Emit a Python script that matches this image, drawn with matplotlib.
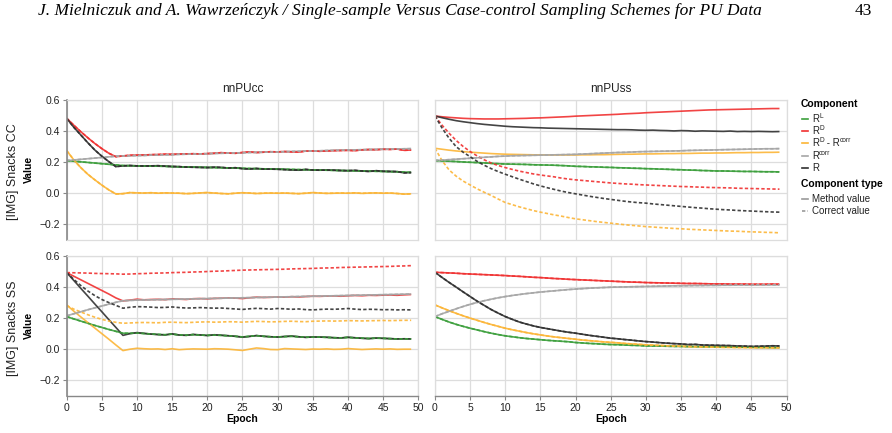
import matplotlib
matplotlib.use("Agg")
import matplotlib.pyplot as plt
from matplotlib.lines import Line2D

plt.rcParams['font.family'] = ['Liberation Sans', 'DejaVu Sans']

epochs = list(range(50))

col_titles = ['nnPUcc', 'nnPUss']
row_titles = ['[IMG] Snacks CC', '[IMG] Snacks SS']
# legend labels as (text, superscript?) pieces
components = [[('R', False), ('L', True)],
              [('R', False), ('D', True)],
              [('R', False), ('D', True), (' - R', False), ('corr', True)],
              [('R', False), ('corr', True)],
              [('R', False)]]
comp_types = ['Method value', 'Correct value']

# ---- nnPUcc / Snacks CC (correct values coincide with method values)
cc_cc_RL = [0.210, 0.206, 0.202, 0.198, 0.194, 0.190, 0.186, 0.182, 0.178, 0.177,
            0.176, 0.175, 0.174, 0.174, 0.173, 0.171, 0.170, 0.169, 0.168, 0.167,
            0.166, 0.165, 0.164, 0.163, 0.162, 0.160, 0.159, 0.158, 0.157, 0.156,
            0.155, 0.154, 0.153, 0.152, 0.151, 0.150, 0.149, 0.148, 0.147, 0.146,
            0.145, 0.144, 0.143, 0.142, 0.141, 0.140, 0.139, 0.138, 0.136, 0.134]
cc_cc_RD = [0.482, 0.438, 0.396, 0.357, 0.320, 0.287, 0.257, 0.235, 0.240, 0.244,
            0.245, 0.246, 0.248, 0.249, 0.251, 0.250, 0.252, 0.253, 0.254, 0.253,
            0.255, 0.257, 0.261, 0.258, 0.257, 0.262, 0.266, 0.262, 0.264, 0.267,
            0.266, 0.268, 0.266, 0.265, 0.271, 0.272, 0.270, 0.272, 0.274, 0.275,
            0.276, 0.274, 0.279, 0.281, 0.280, 0.283, 0.282, 0.284, 0.276, 0.278]
cc_cc_RDmC = [0.274, 0.215, 0.165, 0.122, 0.086, 0.052, 0.021, -0.005, -0.003, 0.004,
              0.002, 0.001, 0.003, 0.000, 0.002, 0.001, 0.000, -0.003, -0.001, 0.002,
              0.004, 0.001, -0.002, -0.004, 0.000, 0.003, 0.001, -0.002, 0.000, 0.001,
              0.000, 0.001, -0.001, -0.003, 0.000, 0.004, 0.001, -0.001, 0.000, 0.001,
              0.000, 0.002, -0.001, 0.001, 0.002, 0.000, 0.001, -0.002, -0.006, -0.004]
cc_cc_Rcorr = [0.210, 0.214, 0.218, 0.222, 0.226, 0.230, 0.234, 0.238, 0.240, 0.241,
               0.242, 0.243, 0.245, 0.246, 0.247, 0.248, 0.250, 0.251, 0.252, 0.253,
               0.254, 0.256, 0.257, 0.258, 0.259, 0.260, 0.262, 0.263, 0.264, 0.265,
               0.266, 0.267, 0.269, 0.270, 0.271, 0.272, 0.273, 0.275, 0.276, 0.277,
               0.278, 0.279, 0.280, 0.281, 0.282, 0.283, 0.284, 0.285, 0.286, 0.287]
cc_cc_R = [0.482, 0.425, 0.375, 0.325, 0.278, 0.238, 0.203, 0.171, 0.176, 0.178,
           0.176, 0.175, 0.176, 0.177, 0.174, 0.172, 0.171, 0.168, 0.167, 0.166,
           0.165, 0.167, 0.166, 0.162, 0.164, 0.158, 0.156, 0.159, 0.155, 0.155,
           0.154, 0.152, 0.150, 0.148, 0.153, 0.149, 0.148, 0.149, 0.148, 0.146,
           0.145, 0.147, 0.143, 0.140, 0.145, 0.141, 0.140, 0.139, 0.131, 0.133]

# ---- nnPUss / Snacks CC
ss_cc_RL = [0.210, 0.208, 0.206, 0.204, 0.201, 0.199, 0.197, 0.195, 0.192, 0.190,
            0.188, 0.187, 0.186, 0.185, 0.183, 0.182, 0.181, 0.180, 0.178, 0.176,
            0.173, 0.172, 0.170, 0.169, 0.167, 0.166, 0.164, 0.163, 0.161, 0.160,
            0.158, 0.157, 0.155, 0.154, 0.152, 0.151, 0.149, 0.148, 0.146, 0.145,
            0.143, 0.143, 0.142, 0.141, 0.140, 0.140, 0.139, 0.138, 0.138, 0.137]
ss_cc_RD = [0.497, 0.492, 0.488, 0.485, 0.482, 0.480, 0.479, 0.478, 0.478, 0.478,
            0.479, 0.480, 0.481, 0.482, 0.484, 0.485, 0.487, 0.489, 0.491, 0.493,
            0.496, 0.498, 0.500, 0.502, 0.504, 0.506, 0.508, 0.511, 0.513, 0.515,
            0.518, 0.520, 0.522, 0.524, 0.526, 0.528, 0.530, 0.532, 0.534, 0.536,
            0.537, 0.538, 0.539, 0.540, 0.541, 0.542, 0.543, 0.544, 0.545, 0.545]
ss_cc_RDmC = [0.289, 0.283, 0.277, 0.272, 0.268, 0.264, 0.261, 0.258, 0.255, 0.253,
              0.251, 0.250, 0.249, 0.248, 0.247, 0.247, 0.246, 0.246, 0.246, 0.246,
              0.246, 0.247, 0.247, 0.248, 0.248, 0.249, 0.250, 0.251, 0.251, 0.252,
              0.253, 0.253, 0.254, 0.255, 0.255, 0.256, 0.256, 0.257, 0.258, 0.258,
              0.259, 0.259, 0.260, 0.261, 0.261, 0.262, 0.262, 0.263, 0.263, 0.264]
ss_cc_Rcorr = [0.210, 0.213, 0.216, 0.219, 0.222, 0.225, 0.228, 0.231, 0.234, 0.237,
               0.239, 0.241, 0.242, 0.243, 0.244, 0.245, 0.246, 0.247, 0.248, 0.249,
               0.250, 0.252, 0.254, 0.256, 0.258, 0.260, 0.262, 0.263, 0.265, 0.267,
               0.268, 0.269, 0.270, 0.271, 0.272, 0.273, 0.275, 0.276, 0.277, 0.278,
               0.279, 0.280, 0.281, 0.282, 0.283, 0.284, 0.285, 0.286, 0.286, 0.287]
ss_cc_R = [0.497, 0.486, 0.476, 0.467, 0.460, 0.454, 0.448, 0.443, 0.439, 0.435,
           0.431, 0.428, 0.426, 0.424, 0.422, 0.421, 0.419, 0.418, 0.417, 0.416,
           0.415, 0.414, 0.413, 0.412, 0.411, 0.410, 0.409, 0.409, 0.408, 0.406,
           0.405, 0.406, 0.404, 0.403, 0.401, 0.403, 0.402, 0.399, 0.401, 0.400,
           0.399, 0.398, 0.400, 0.397, 0.398, 0.397, 0.398, 0.397, 0.396, 0.397]
ss_cc_RD_true = [0.497, 0.438, 0.386, 0.340, 0.301, 0.268, 0.240, 0.215, 0.194, 0.178,
                 0.165, 0.153, 0.142, 0.133, 0.124, 0.117, 0.111, 0.105, 0.097, 0.091,
                 0.086, 0.082, 0.078, 0.074, 0.070, 0.066, 0.063, 0.060, 0.058, 0.055,
                 0.053, 0.051, 0.049, 0.047, 0.045, 0.043, 0.042, 0.040, 0.039, 0.037,
                 0.036, 0.035, 0.034, 0.032, 0.031, 0.030, 0.029, 0.028, 0.027, 0.026]
ss_cc_RDmC_true = [0.289, 0.210, 0.150, 0.110, 0.078, 0.053, 0.028, 0.006, -0.015, -0.038,
                   -0.060, -0.074, -0.088, -0.100, -0.112, -0.122, -0.131, -0.140, -0.148, -0.157,
                   -0.165, -0.171, -0.177, -0.183, -0.188, -0.193, -0.198, -0.203, -0.207, -0.211,
                   -0.215, -0.218, -0.221, -0.224, -0.227, -0.229, -0.232, -0.234, -0.236, -0.238,
                   -0.240, -0.242, -0.244, -0.245, -0.247, -0.249, -0.250, -0.252, -0.253, -0.255]
ss_cc_R_true = [0.497, 0.420, 0.354, 0.300, 0.264, 0.235, 0.205, 0.180, 0.158, 0.139,
                0.122, 0.106, 0.090, 0.075, 0.060, 0.047, 0.035, 0.024, 0.013, 0.004,
                -0.004, -0.012, -0.020, -0.027, -0.034, -0.040, -0.046, -0.052, -0.057, -0.061,
                -0.064, -0.069, -0.073, -0.077, -0.081, -0.085, -0.089, -0.093, -0.096, -0.100,
                -0.103, -0.106, -0.108, -0.111, -0.113, -0.115, -0.117, -0.119, -0.121, -0.122]

# ---- nnPUcc / Snacks SS
cc_ss_RL = [0.210, 0.195, 0.181, 0.167, 0.153, 0.140, 0.127, 0.115, 0.103, 0.102,
            0.104, 0.101, 0.098, 0.095, 0.093, 0.097, 0.092, 0.090, 0.094, 0.091,
            0.089, 0.091, 0.089, 0.086, 0.083, 0.079, 0.083, 0.087, 0.083, 0.080,
            0.079, 0.081, 0.083, 0.080, 0.077, 0.078, 0.078, 0.076, 0.074, 0.073,
            0.076, 0.073, 0.071, 0.069, 0.071, 0.070, 0.068, 0.066, 0.067, 0.066]
cc_ss_RD = [0.493, 0.470, 0.447, 0.424, 0.401, 0.378, 0.355, 0.330, 0.311, 0.316,
            0.322, 0.318, 0.320, 0.321, 0.319, 0.324, 0.322, 0.320, 0.325, 0.326,
            0.324, 0.327, 0.328, 0.330, 0.329, 0.326, 0.331, 0.335, 0.333, 0.334,
            0.336, 0.335, 0.338, 0.336, 0.339, 0.341, 0.340, 0.342, 0.343, 0.341,
            0.344, 0.346, 0.344, 0.347, 0.346, 0.348, 0.349, 0.347, 0.350, 0.352]
cc_ss_RDmC = [0.285, 0.245, 0.208, 0.172, 0.136, 0.100, 0.064, 0.027, -0.009, 0.000,
              0.006, 0.003, 0.001, 0.002, -0.002, 0.003, -0.003, 0.000, 0.002, 0.001,
              0.000, 0.003, 0.002, 0.000, -0.004, -0.008, 0.000, 0.008, 0.004, -0.002,
              -0.003, 0.004, 0.002, 0.000, -0.002, 0.001, 0.000, 0.002, -0.001, 0.000,
              0.004, 0.001, -0.002, 0.000, 0.002, 0.000, 0.002, -0.001, 0.000, 0.000]
cc_ss_Rcorr = [0.215, 0.228, 0.241, 0.254, 0.266, 0.278, 0.290, 0.302, 0.312, 0.314,
               0.316, 0.317, 0.318, 0.319, 0.320, 0.321, 0.322, 0.323, 0.324, 0.325,
               0.326, 0.327, 0.328, 0.329, 0.330, 0.331, 0.332, 0.333, 0.334, 0.335,
               0.336, 0.337, 0.338, 0.339, 0.340, 0.341, 0.342, 0.343, 0.344, 0.345,
               0.346, 0.347, 0.348, 0.349, 0.350, 0.351, 0.352, 0.353, 0.354, 0.355]
cc_ss_R = [0.493, 0.443, 0.392, 0.342, 0.291, 0.241, 0.190, 0.140, 0.089, 0.100,
           0.107, 0.102, 0.097, 0.094, 0.092, 0.099, 0.091, 0.089, 0.095, 0.092,
           0.088, 0.093, 0.090, 0.087, 0.083, 0.077, 0.082, 0.088, 0.083, 0.080,
           0.078, 0.082, 0.085, 0.080, 0.076, 0.079, 0.078, 0.077, 0.074, 0.072,
           0.077, 0.074, 0.070, 0.068, 0.072, 0.070, 0.068, 0.066, 0.067, 0.066]
cc_ss_RD_true = [0.493, 0.492, 0.491, 0.490, 0.488, 0.487, 0.486, 0.485, 0.483, 0.484,
                 0.486, 0.487, 0.489, 0.490, 0.491, 0.493, 0.494, 0.495, 0.497, 0.498,
                 0.500, 0.502, 0.503, 0.505, 0.507, 0.509, 0.510, 0.511, 0.512, 0.513,
                 0.514, 0.515, 0.517, 0.518, 0.519, 0.520, 0.522, 0.523, 0.524, 0.526,
                 0.527, 0.528, 0.529, 0.530, 0.531, 0.532, 0.533, 0.535, 0.536, 0.538]
cc_ss_RDmC_true = [0.281, 0.258, 0.240, 0.222, 0.206, 0.192, 0.181, 0.173, 0.167, 0.169,
                   0.171, 0.172, 0.171, 0.170, 0.173, 0.174, 0.172, 0.171, 0.173, 0.175,
                   0.176, 0.174, 0.175, 0.177, 0.176, 0.174, 0.177, 0.179, 0.178, 0.176,
                   0.177, 0.179, 0.180, 0.178, 0.177, 0.180, 0.181, 0.182, 0.181, 0.182,
                   0.184, 0.183, 0.182, 0.183, 0.184, 0.185, 0.184, 0.185, 0.186, 0.186]
cc_ss_R_true = [0.493, 0.450, 0.410, 0.375, 0.345, 0.320, 0.300, 0.282, 0.264, 0.270,
                0.274, 0.273, 0.271, 0.268, 0.269, 0.272, 0.268, 0.265, 0.266, 0.268,
                0.266, 0.264, 0.265, 0.262, 0.259, 0.256, 0.260, 0.263, 0.261, 0.258,
                0.262, 0.260, 0.257, 0.259, 0.255, 0.253, 0.256, 0.258, 0.257, 0.259,
                0.262, 0.258, 0.255, 0.257, 0.256, 0.254, 0.255, 0.253, 0.254, 0.253]

# ---- nnPUss / Snacks SS (correct values coincide with method values)
ss_ss_RL = [0.210, 0.192, 0.175, 0.160, 0.147, 0.135, 0.124, 0.113, 0.103, 0.094,
            0.086, 0.080, 0.074, 0.069, 0.065, 0.061, 0.057, 0.054, 0.051, 0.048,
            0.043, 0.040, 0.037, 0.035, 0.032, 0.030, 0.029, 0.027, 0.025, 0.024,
            0.021, 0.021, 0.020, 0.019, 0.018, 0.018, 0.017, 0.017, 0.016, 0.016,
            0.015, 0.015, 0.014, 0.014, 0.013, 0.013, 0.012, 0.012, 0.011, 0.011]
ss_ss_RD = [0.495, 0.493, 0.491, 0.489, 0.486, 0.484, 0.482, 0.480, 0.478, 0.476,
            0.474, 0.471, 0.469, 0.466, 0.463, 0.461, 0.458, 0.455, 0.453, 0.450,
            0.448, 0.446, 0.444, 0.442, 0.440, 0.438, 0.436, 0.434, 0.432, 0.431,
            0.429, 0.428, 0.427, 0.426, 0.425, 0.424, 0.423, 0.423, 0.422, 0.421,
            0.420, 0.420, 0.419, 0.419, 0.419, 0.418, 0.418, 0.418, 0.419, 0.418]
ss_ss_RDmC = [0.285, 0.266, 0.248, 0.231, 0.215, 0.200, 0.186, 0.172, 0.159, 0.147,
              0.135, 0.125, 0.116, 0.107, 0.099, 0.092, 0.085, 0.079, 0.074, 0.069,
              0.064, 0.059, 0.055, 0.051, 0.047, 0.044, 0.041, 0.037, 0.034, 0.031,
              0.028, 0.026, 0.024, 0.022, 0.020, 0.019, 0.017, 0.016, 0.015, 0.014,
              0.013, 0.012, 0.012, 0.011, 0.011, 0.010, 0.010, 0.010, 0.009, 0.009]
ss_ss_Rcorr = [0.210, 0.228, 0.244, 0.260, 0.275, 0.289, 0.301, 0.312, 0.322, 0.331,
               0.339, 0.346, 0.352, 0.358, 0.363, 0.368, 0.372, 0.376, 0.380, 0.384,
               0.387, 0.390, 0.393, 0.395, 0.397, 0.399, 0.400, 0.401, 0.402, 0.403,
               0.404, 0.405, 0.406, 0.407, 0.408, 0.408, 0.409, 0.410, 0.410, 0.411,
               0.411, 0.412, 0.412, 0.413, 0.413, 0.413, 0.414, 0.414, 0.414, 0.414]
ss_ss_R = [0.495, 0.462, 0.430, 0.400, 0.369, 0.339, 0.309, 0.282, 0.255, 0.232,
           0.210, 0.192, 0.175, 0.162, 0.150, 0.140, 0.132, 0.124, 0.116, 0.109,
           0.103, 0.096, 0.089, 0.083, 0.077, 0.071, 0.067, 0.062, 0.058, 0.053,
           0.049, 0.046, 0.042, 0.039, 0.036, 0.034, 0.030, 0.031, 0.027, 0.026,
           0.025, 0.024, 0.023, 0.021, 0.020, 0.018, 0.019, 0.020, 0.022, 0.021]

colors = ['#3c9f3c', '#f03030', '#fcb536', '#a6a6a6', '#303030']

# method series and correct series per panel, in component order
method = {
    (0, 0): [cc_cc_RL, cc_cc_RD, cc_cc_RDmC, cc_cc_Rcorr, cc_cc_R],
    (0, 1): [ss_cc_RL, ss_cc_RD, ss_cc_RDmC, ss_cc_Rcorr, ss_cc_R],
    (1, 0): [cc_ss_RL, cc_ss_RD, cc_ss_RDmC, cc_ss_Rcorr, cc_ss_R],
    (1, 1): [ss_ss_RL, ss_ss_RD, ss_ss_RDmC, ss_ss_Rcorr, ss_ss_R],
}
correct = {
    (0, 0): [cc_cc_RL, cc_cc_RD, cc_cc_RDmC, cc_cc_Rcorr, cc_cc_R],
    (0, 1): [ss_cc_RL, ss_cc_RD_true, ss_cc_RDmC_true, ss_cc_Rcorr, ss_cc_R_true],
    (1, 0): [cc_ss_RL, cc_ss_RD_true, cc_ss_RDmC_true, cc_ss_Rcorr, cc_ss_R_true],
    (1, 1): [ss_ss_RL, ss_ss_RD, ss_ss_RDmC, ss_ss_Rcorr, ss_ss_R],
}

W, H = 892, 433
fig = plt.figure(figsize=(W / 100, H / 100), dpi=100)
renderer = fig.canvas.get_renderer()

lefts = [66.7, 435.0]
tops = [100.0, 256.0]
pw, ph = 351.5, 139.8

grid_c = '#dddddd'
dom_c = '#888888'
tick_fs = 7.5

for r in range(2):
    for c in range(2):
        ax = fig.add_axes([lefts[c] / W, 1 - (tops[r] + ph) / H, pw / W, ph / H])
        for k in range(5):
            ax.plot(epochs, method[(r, c)][k], color=colors[k], lw=1.2, alpha=0.9,
                    solid_capstyle='butt')
        for k in range(5):
            ax.plot(epochs, correct[(r, c)][k], color=colors[k], lw=1.2, alpha=0.9,
                    dashes=(2, 1.3))
        ax.set_xlim(0, 50)
        ax.set_ylim(-0.3, 0.6)
        ax.set_xticks(range(0, 51, 5))
        ax.set_yticks([-0.2, 0.0, 0.2, 0.4, 0.6])
        ax.grid(True, color=grid_c, lw=0.9)
        ax.set_axisbelow(True)
        for s in ax.spines.values():
            s.set_color(grid_c)
            s.set_linewidth(0.9)
        ax.tick_params(colors=dom_c, labelcolor='#222222', labelsize=tick_fs,
                       length=3, width=0.8, pad=2)
        if c == 0:
            ax.spines['left'].set_color(dom_c)
            ax.spines['left'].set_linewidth(1.2)
            ax.set_yticklabels(['\u22120.2', '0.0', '0.2', '0.4', '0.6'])
            ax.set_ylabel('Value', fontsize=7.5, fontweight='bold', labelpad=4)
            fig.text(13 / W, 1 - (tops[r] + ph / 2 + 2) / H, row_titles[r],
                     rotation=90, ha='center', va='center', fontsize=9, color='#222222')
        else:
            ax.tick_params(axis='y', left=False, labelleft=False)
        if r == 1:
            ax.spines['bottom'].set_color(dom_c)
            ax.spines['bottom'].set_linewidth(1.0)
            ax.set_xlabel('Epoch', fontsize=7.5, fontweight='bold', labelpad=1)
        else:
            ax.tick_params(axis='x', bottom=False, labelbottom=False)
            ax.set_title(col_titles[c], fontsize=8.5, pad=6, color='#222222')


def rich_text(x, y, parts):
    # draw text pieces one after another, small raised pieces for superscripts
    for s, sup in parts:
        t = fig.text(x / W, 1 - (y - (2.5 if sup else 0)) / H, s,
                     fontsize=4.8 if sup else 7, va='center', color='#222222')
        x += t.get_window_extent(renderer).width


# legend
lx = 801 / W
fig.text(lx, 1 - 104 / H, 'Component', fontsize=7.5, fontweight='bold', va='center')
ys = [119, 131, 143, 156, 168]
for k in range(5):
    yy = 1 - ys[k] / H
    fig.add_artist(Line2D([802 / W, 808 / W], [yy, yy], color=colors[k], lw=1.2))
    rich_text(812, ys[k], components[k])
fig.text(lx, 1 - 184 / H, 'Component type', fontsize=7.5, fontweight='bold', va='center')
for k, (lab, ys_) in enumerate(zip(comp_types, [199, 211])):
    yy = 1 - ys_ / H
    if k == 0:
        fig.add_artist(Line2D([802 / W, 808 / W], [yy, yy], color='#999999', lw=1.2))
    else:
        fig.add_artist(Line2D([802 / W, 808 / W], [yy, yy], color='#999999', lw=1.2,
                              dashes=(2, 1.3)))
    fig.text(812 / W, yy, lab, fontsize=7, va='center', color='#222222')

# page header
fig.text(38 / W, 1 - 11 / H,
         'J. Mielniczuk and A. Wawrze\u0144czyk / Single-sample Versus Case-control Sampling Schemes for PU Data',
         family='Liberation Serif', style='italic', fontsize=12.5, va='center')
fig.text(872 / W, 1 - 11 / H, '43', family='Liberation Serif', fontsize=12.5,
         va='center', ha='right')

fig.savefig('out.png', dpi=100)
